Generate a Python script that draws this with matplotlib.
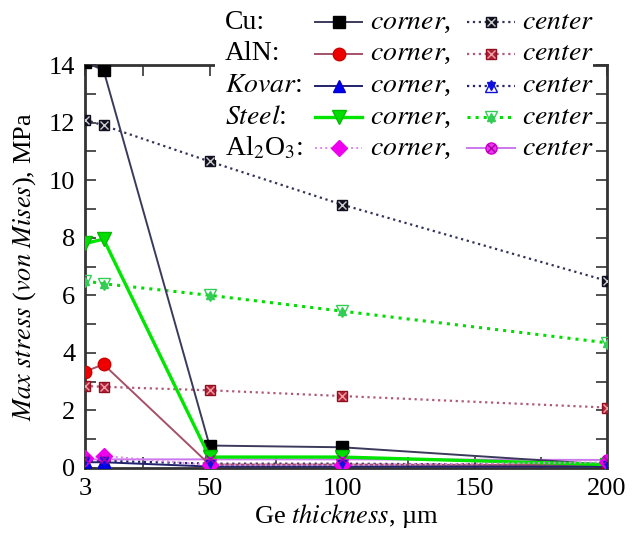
import matplotlib
matplotlib.use("Agg")
import matplotlib.pyplot as plt
from matplotlib.lines import Line2D
from matplotlib.patches import Rectangle
from matplotlib.ticker import MultipleLocator

plt.rcParams["font.family"] = "Liberation Serif"
plt.rcParams["mathtext.fontset"] = "stix"

# Ge thickness, um
thickness = [3, 10, 50, 100, 200]

# max von Mises stress, MPa
cu_corner = [14.1, 13.82, 0.78, 0.72, 0.12]
cu_center = [12.1, 11.9, 10.65, 9.15, 6.5]
aln_corner = [3.35, 3.6, 0.12, 0.12, 0.1]
aln_center = [2.85, 2.82, 2.7, 2.5, 2.1]
kovar_corner = [0.2, 0.2, 0.05, 0.05, 0.05]
kovar_center = [0.25, 0.25, 0.15, 0.15, 0.1]
steel_corner = [7.8, 7.95, 0.38, 0.38, 0.12]
steel_center = [6.5, 6.4, 6.0, 5.45, 4.35]
al2o3_corner = [0.35, 0.42, 0.1, 0.1, 0.2]
al2o3_center = [0.3, 0.3, 0.3, 0.3, 0.28]

materials = ["Cu:", r"AlN:", r"$\mathit{Kovar}$:", r"$\mathit{Steel}$:", r"Al$_2$O$_3$:"]

# (values, line color, linestyle, linewidth, marker, face, edge, size, overlay marker, overlay color)
corner_styles = [
    (cu_corner, "#3a3a5c", "-", 1.4, "s", "black", "black", 8, None, None),
    (aln_corner, "#a65068", "-", 1.4, "o", "#ee0000", "#cc0000", 9, None, None),
    (kovar_corner, "#22226e", "-", 1.4, "^", "#0000ee", "#0000cc", 9, None, None),
    (steel_corner, "#00e600", "-", 2.4, "v", "#00dd00", "#00bb00", 10, None, None),
    (al2o3_corner, "#dd88ee", ":", 1.4, "D", "#ee00ee", "#ee00ee", 8, None, None),
]
center_styles = [
    (cu_center, "#33335a", ":", 1.6, "s", "#111122", "#111122", 7, "x", "#cccccc"),
    (aln_center, "#b05a78", ":", 1.6, "s", "#b0203a", "#901020", 7, "x", "#f0a0a0"),
    (kovar_center, "#24246e", ":", 1.6, "^", "none", "#1010dd", 8, "v", "#1010dd"),
    (steel_center, "#00dd00", ":", 2.2, "v", "none", "#33cc55", 8, "^", "#33cc55"),
    (al2o3_center, "#cc77ee", "-", 1.4, "o", "#ee33ee", "#cc00cc", 8, "x", "#aa00aa"),
]

fig = plt.figure(figsize=(6.41, 5.33), dpi=100)
ax = fig.add_axes([85 / 641, 1 - 468 / 533, 522 / 641, 403 / 533])


def draw(ax, x, st):
    y, lc, ls, lw, m, fc, ec, ms, om, oc = st
    ax.plot(x, y, color=lc, linestyle=ls, linewidth=lw, marker=m,
            markerfacecolor=fc, markeredgecolor=ec, markersize=ms, zorder=3)
    if om is not None:
        ax.plot(x, y, linestyle="none", marker=om, markersize=ms * 0.75,
                markeredgecolor=oc, markerfacecolor=oc, markeredgewidth=1.0, zorder=4)


for st in center_styles:
    draw(ax, thickness, st)
for st in corner_styles:
    draw(ax, thickness, st)

ax.set_xlim(3, 200)
ax.set_ylim(0, 14)
ax.set_xticks([3, 50, 100, 150, 200])
ax.xaxis.set_minor_locator(MultipleLocator(25))
ax.yaxis.set_major_locator(MultipleLocator(2))
ax.yaxis.set_minor_locator(MultipleLocator(1))
ax.tick_params(which="both", direction="in", top=True, right=True,
               labelsize=19, color="#333333", width=1.2)
ax.tick_params(which="major", length=8, pad=7)
ax.tick_params(which="minor", length=8)
for sp in ax.spines.values():
    sp.set_linewidth(2)
    sp.set_color("#333333")

ax.set_xlabel(r"Ge $\mathit{thickness}$, µm", fontsize=19, labelpad=2)
ax.set_ylabel(r"$\mathit{Max\ stress}$ ($\mathit{von\ Mises}$), MPa", fontsize=19, labelpad=8)

# legend block drawn over the top-right corner of the frame
W, H = 641.0, 533.0
fig.add_artist(Rectangle((215 / W, 1 - 160 / H), 378 / W, 160 / H,
                         transform=fig.transFigure, facecolor="white",
                         edgecolor="none", zorder=5))
rows_y = [22, 54, 86, 117, 148]


def sample(st, x0, x1, yp):
    y, lc, ls, lw, m, fc, ec, ms, om, oc = st
    yy = 1 - yp / H
    fig.add_artist(Line2D([x0 / W, x1 / W], [yy, yy], transform=fig.transFigure,
                          color=lc, linestyle=ls, linewidth=lw, zorder=6))
    fig.add_artist(Line2D([(x0 + x1) / 2 / W], [yy], transform=fig.transFigure,
                          marker=m, markerfacecolor=fc, markeredgecolor=ec,
                          markersize=ms, zorder=7))
    if om is not None:
        fig.add_artist(Line2D([(x0 + x1) / 2 / W], [yy], transform=fig.transFigure,
                              marker=om, markersize=ms * 0.75, markeredgecolor=oc,
                              markerfacecolor=oc, zorder=8))


for name, yp, cs, ce in zip(materials, rows_y, corner_styles, center_styles):
    fig.text(225 / W, 1 - yp / H, name, fontsize=20, va="center", ha="left", zorder=6)
    sample(cs, 315, 362, yp)
    fig.text(370 / W, 1 - yp / H, r"$\mathit{corner}$,", fontsize=20,
             va="center", ha="left", zorder=6)
    sample(ce, 467, 515, yp)
    fig.text(522 / W, 1 - yp / H, r"$\mathit{center}$", fontsize=20,
             va="center", ha="left", zorder=6)

fig.savefig("out.png", dpi=100)
